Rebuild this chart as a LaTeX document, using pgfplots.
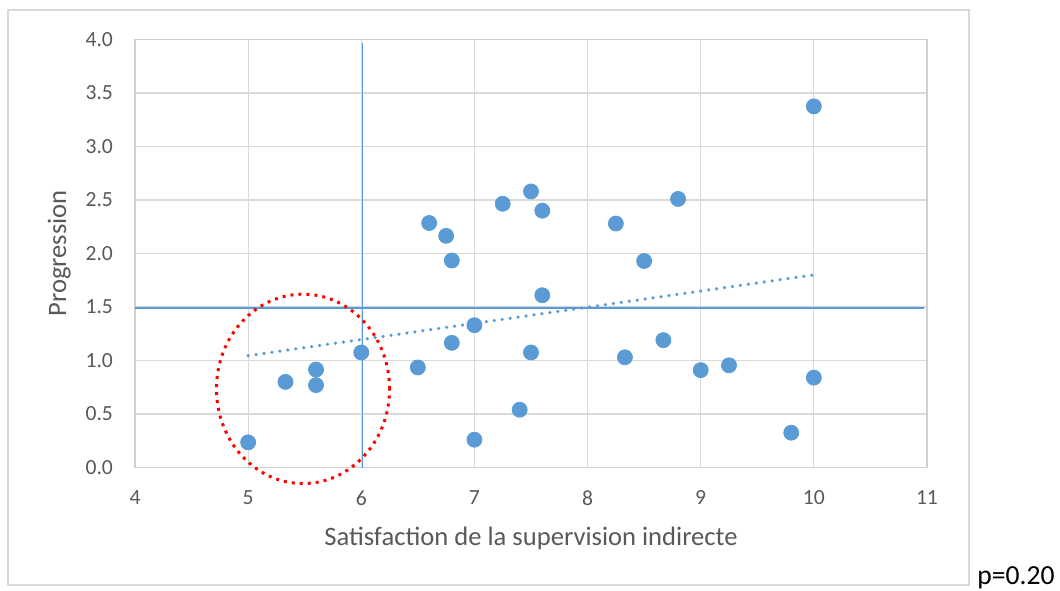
\documentclass[border=0pt]{standalone}
\usepackage{fontspec}
\setmainfont{Carlito}
\usepackage{pgfplots}
\pgfplotsset{compat=1.18}
\definecolor{ptblue}{HTML}{5B9BD5}
\definecolor{gridgray}{HTML}{D9D9D9}
\definecolor{axgray}{HTML}{CFCFCF}
\definecolor{labgray}{HTML}{595959}
\begin{document}
\begin{tikzpicture}
\useasboundingbox (0,0) rectangle (530pt,295pt);
\draw[color=gridgray, line width=0.75pt] (4pt,2.5pt) rectangle (484.5pt,290pt);
\begin{axis}[
  at={(67.5pt,61.25pt)}, anchor=south west,
  scale only axis, width=396pt, height=214pt,
  xmin=4, xmax=11, ymin=0, ymax=4,
  xtick={4,5,...,11}, ytick={0,0.5,...,4},
  grid=major,
  major grid style={color=gridgray, line width=0.6pt},
  axis line style={color=axgray, line width=0.6pt},
  tick style={draw=none},
  clip=false,
  /pgf/number format/assume math mode=true,
  ticklabel style={font=\fontsize{10.8}{12}\selectfont, text=labgray},
  xticklabel style={yshift=-8pt},
  yticklabel style={xshift=-7.5pt, /pgf/number format/.cd, fixed, fixed zerofill, precision=1},
  xlabel={Satisfaction de la supervision indirecte},
  ylabel={Progression},
  label style={font=\fontsize{13.3}{15}\selectfont, text=labgray},
  xlabel style={at={(axis description cs:0.5,-0.1834)}, anchor=base},
  ylabel style={at={(axis description cs:-0.0871,0.5)}, anchor=base},
]
% reference lines
\addplot[draw=ptblue, line width=0.8pt, forget plot] coordinates {(6.01,0) (6.01,3.97)};
\addplot[draw=ptblue, line width=0.7pt, forget plot] coordinates {(4,1.49) (10.97,1.49)};
% trendline
\addplot[draw=ptblue, line width=1.8pt, line cap=round, dash pattern=on 0.01pt off 4pt, forget plot] coordinates {(5,1.045) (10,1.80)};
% data
\addplot[only marks, mark=*, mark size=3.75pt, mark options={fill=ptblue, draw=ptblue}] coordinates {
(5,0.235) (5.33,0.80) (5.6,0.915) (5.6,0.77) (6,1.075) (6.5,0.935)
(6.6,2.285) (6.75,2.165) (6.8,1.935) (6.8,1.165) (7,1.33) (7,0.26)
(7.25,2.465) (7.4,0.54) (7.5,2.58) (7.5,1.075) (7.6,2.40) (7.6,1.61)
(8.25,2.28) (8.33,1.03) (8.5,1.93) (8.67,1.19) (8.8,2.51) (9,0.91)
(9.25,0.955) (9.8,0.325) (10,3.375) (10,0.84)
};
\draw[red, line width=1.5pt, dash pattern=on 1.5pt off 2.5pt] (axis cs:5.485,0.735) ellipse [x radius=0.765, y radius=0.885];
\end{axis}
\node[anchor=base west, inner sep=0pt, font=\fontsize{13.8}{15}\selectfont] at (488.5pt,3pt) {p=0.20};
\end{tikzpicture}
\end{document}
